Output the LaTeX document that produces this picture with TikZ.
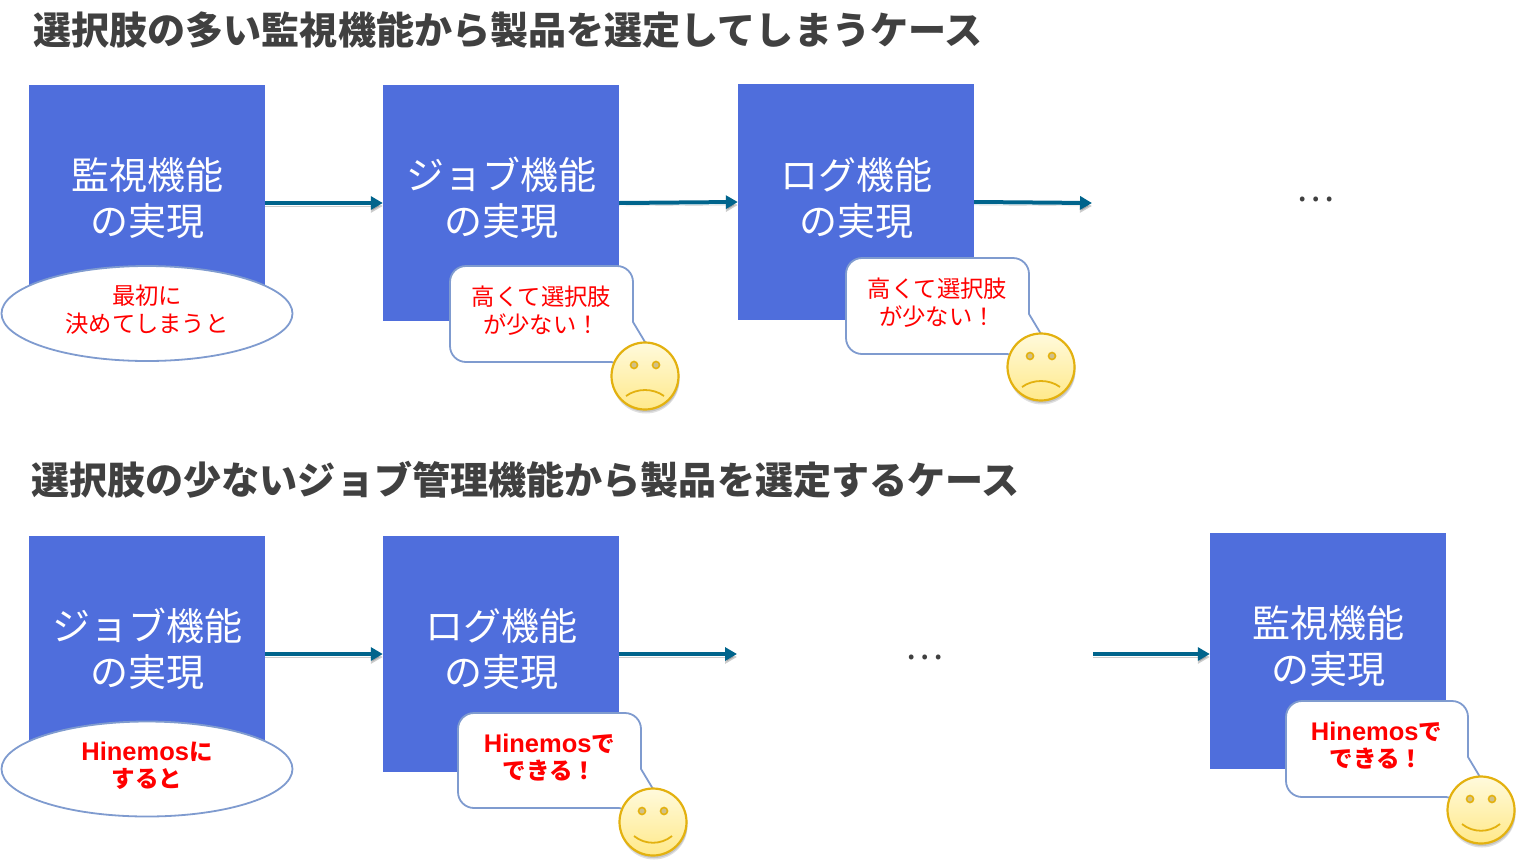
\documentclass[tikz,border=0pt]{standalone}
\usepackage{fontspec}
\usepackage{xcolor}
\setmainfont{Noto Sans CJK JP}
\newfontfamily\latinbold[BoldFont=Liberation Sans Bold]{Liberation Sans}
\usepackage{tikz}
\usetikzlibrary{arrows.meta,positioning,calc,shapes.geometric,shadows}

\definecolor{boxblue}{HTML}{4F6EDC}
\definecolor{flowblue}{HTML}{00648C}
\definecolor{edgeblue}{HTML}{7F9BCF}
\definecolor{headgray}{HTML}{404040}
\definecolor{faceedge}{HTML}{E3B10F}
\definecolor{facetop}{HTML}{FFFADC}
\definecolor{facelow}{HTML}{FFE98A}
\definecolor{eyefill}{HTML}{CFC08A}

\newcommand{\hinemos}{{\latinbold\bfseries\fontsize{25.5}{27}\selectfont Hinemos}}

\tikzset{
  headline/.style={anchor=west,inner sep=0pt,text=headgray,font=\fontsize{38.1}{44}\selectfont\bfseries},
  funcbox/.style={rectangle,fill=boxblue,minimum width=236,minimum height=236,inner sep=0pt},
  functext/.style={align=center,inner sep=0pt,text=white,font=\fontsize{38}{46}\selectfont},
  flow/.style={-{Triangle[length=12,width=13]},line width=4,draw=flowblue,
    preaction={draw=black,opacity=.2,transform canvas={yshift=-3pt}}},
  dotstext/.style={inner sep=0pt,text=headgray,font=\fontsize{36}{40}\selectfont},
  firstoval/.style={ellipse,draw=edgeblue,line width=1.8,fill=white,minimum width=291,minimum height=95,inner sep=0pt},
  bubble/.style={draw=edgeblue,line width=1.8,fill=white},
  saytext/.style={align=center,inner sep=0pt,text=red,font=\fontsize{23.3}{28}\selectfont},
  boldsay/.style={saytext,font=\fontsize{23.5}{27}\selectfont\bfseries},
  face/.style={circle,draw=faceedge,line width=2.2,minimum size=67,inner sep=0pt,
    top color=facetop,bottom color=facelow,
    drop shadow={shadow xshift=1pt,shadow yshift=-4pt,opacity=.12,fill=black},
    drop shadow={shadow xshift=1pt,shadow yshift=-2.5pt,opacity=.12,fill=black}},
  eye/.style={circle,draw=faceedge,line width=1.6,fill=eyefill,minimum size=7,inner sep=0pt},
  mouth/.style={draw=faceedge,line width=1.8}
}

% bubble with a tail at its lower right: left, top, right, bottom
\newcommand{\sayshape}[4]{
  \draw[bubble] (#3-22,#4) [rounded corners=16] -- (#1,#4) -- (#1,#2) -- (#3,#2) [sharp corners] -- (#3,#2+56)
    -- (#3+30,#2+106) -- cycle;
}
% face: name, centre x, centre y, y of the mouth ends, y of the mouth control
\newcommand{\smiley}[5]{
  \node[face] (#1) at (#2,#3) {};
  \node[eye] at ($(#1)+(-11,-11)$) {};
  \node[eye] at ($(#1)+(11,-11)$) {};
  \draw[mouth] ($(#1)+(-19,#4)$) .. controls ($(#1)+(-8,#5)$) and ($(#1)+(8,#5)$) .. ($(#1)+(19,#4)$);
}

\begin{document}
\begin{tikzpicture}[x=1pt,y=-1pt]
\useasboundingbox (0,0) rectangle (1522,865);

% Upper case
\node[headline] (headA) at (33,30) {選択肢の多い監視機能から製品を選定してしまうケース};

\node[funcbox] (watchA) at (147,203) {};
\node[funcbox] (jobA) at (501,203) {};
\node[funcbox] (logA) at (856,202) {};
\node[functext] (watchAtext) at ([yshift=5pt]watchA.center) {監視機能\\の実現};
\node[functext] (jobAtext) at ([yshift=5pt]jobA.center) {ジョブ機能\\の実現};
\node[functext] (logAtext) at ([yshift=4pt]logA.center) {ログ機能\\の実現};
\node[dotstext] (dotsA) at (1316,199.5) {…};
\coordinate (endA) at (1092,203);

\draw[flow] (watchA.east) -- (jobA.west);
\draw[flow] (jobA.east) -- (logA.west);
\draw[flow] (logA.east) -- (endA);

\node[firstoval] (ovalA) at (147,313.5) {};
\node[saytext] (ovalAtext) at (147,310) {最初に\\決めてしまうと};

\sayshape{450}{266}{633}{362}
\node[saytext] (sayA) at (541.5,311) {高くて選択肢\\が少ない！};
\smiley{faceA}{645}{376}{20}{12}

\sayshape{846}{258}{1029}{354}
\node[saytext] (sayB) at (937.5,303) {高くて選択肢\\が少ない！};
\smiley{faceB}{1041}{367}{20}{12}

% Lower case
\node[headline] (headB) at (31,480) {選択肢の少ないジョブ管理機能から製品を選定するケース};

\node[funcbox] (jobB) at (147,654) {};
\node[funcbox] (logB) at (501,654) {};
\node[funcbox] (watchB) at (1328,651) {};
\node[functext] (jobBtext) at ([yshift=5pt]jobB.center) {ジョブ機能\\の実現};
\node[functext] (logBtext) at ([yshift=5pt]logB.center) {ログ機能\\の実現};
\node[functext] (watchBtext) at ([yshift=5pt]watchB.center) {監視機能\\の実現};
\node[dotstext] (dotsB) at (925,657) {…};
\coordinate (endB) at (737,654);
\coordinate (startB) at (1093,654);

\draw[flow] (jobB.east) -- (logB.west);
\draw[flow] (logB.east) -- (endB);
\draw[flow] (startB) -- (startB -| watchB.west);

\node[firstoval] (ovalB) at (147,769) {};
\node[boldsay] (ovalBtext) at (147,765.5) {\hinemos に\\すると};

\sayshape{458}{713}{641}{808}
\node[boldsay] (sayC) at (549.5,758) {\hinemos で\\できる！};
\smiley{faceC}{653}{822}{14}{23}

\sayshape{1286}{701}{1468}{797}
\node[boldsay] (sayD) at (1376.5,746) {\hinemos で\\できる！};
\smiley{faceD}{1481}{810}{14}{23}
\end{tikzpicture}
\end{document}
